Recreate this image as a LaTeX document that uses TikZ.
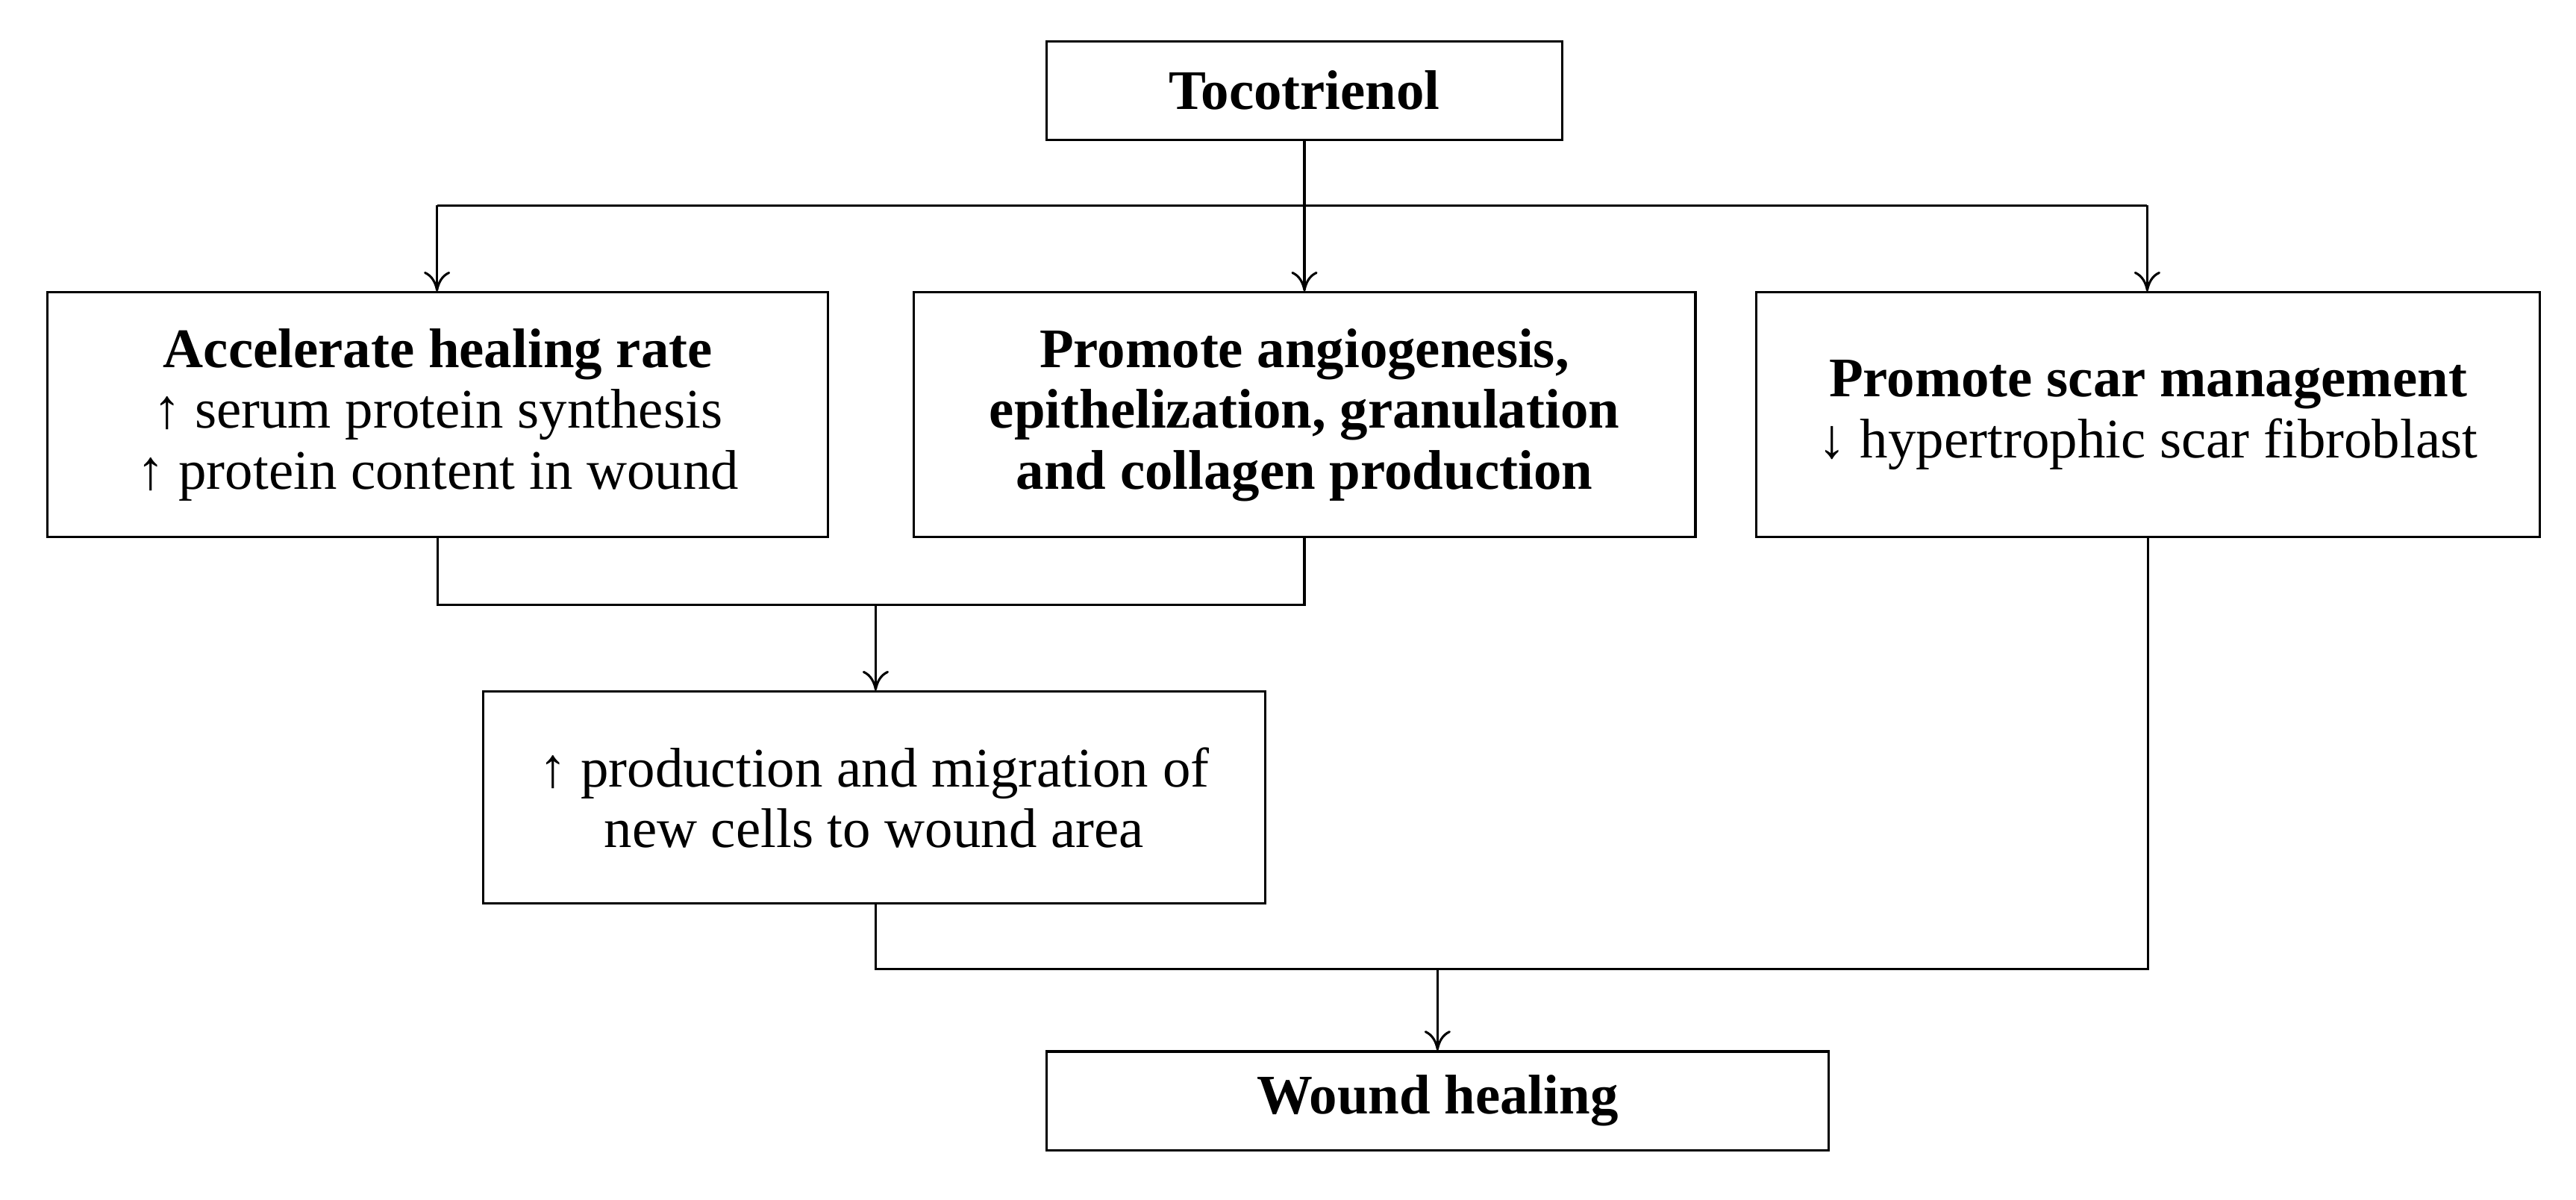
\documentclass[tikz,border=0pt]{standalone}
\usepackage{fontspec}
\setmainfont{Liberation Serif}
\usetikzlibrary{arrows.meta}
\begin{document}
\begin{tikzpicture}[x=0.5pt,y=-0.5pt,
  box/.style={draw,line width=0.7pt,inner sep=0pt,align=center,font=\fontsize{17}{18.5}\selectfont},
  ln/.style={line width=0.7pt},
  arr/.style={ln,-{To[length=6pt,width=8pt]}}]
\useasboundingbox (0,0) rectangle (1568,730);
\node[box,minimum width=157pt,minimum height=30pt] (t) at (794,55) {\textbf{Tocotrienol}};
\node[box,minimum width=237.5pt,minimum height=74.5pt] (a) at (266.5,252.5) {\textbf{Accelerate healing rate}\\↑ serum protein synthesis\\↑ protein content in wound};
\node[box,minimum width=238pt,minimum height=74.5pt] (b) at (794,252.5) {\textbf{Promote angiogenesis,}\\\textbf{epithelization, granulation}\\\textbf{and collagen production}};
\node[box,minimum width=238.5pt,minimum height=74.5pt] (c) at (1307.5,252.5) {\textbf{Promote scar management}\\↓ hypertrophic scar fibroblast};
\node[box,minimum width=238pt,minimum height=64.5pt] (d) at (532,485.5) {↑ production and migration of\\new cells to wound area};
\node[box,minimum width=238pt,minimum height=30pt] (w) at (875,670) {\textbf{Wound healing}};
\coordinate (h1) at (266,125); \coordinate (h2) at (1307,125);
\coordinate (m) at (794,125);
\coordinate (j) at (533,368); \coordinate (k) at (875,590);
\draw[ln] (t.south) -- (m);
\draw[ln] (h1) -- (h2);
\draw[arr] (h1) -- (h1 |- a.north);
\draw[arr] (m) -- (b.north);
\draw[arr] (h2) -- (h2 |- c.north);
\draw[ln] (a.south) -- (a.south |- j) -- (b.south |- j) -- (b.south);
\draw[arr] (j) -- (j |- d.north);
\draw[ln] (j |- d.south) -- (j |- k) -- (c.south |- k) -- (c.south);
\draw[arr] (k) -- (w.north);
\end{tikzpicture}
\end{document}
